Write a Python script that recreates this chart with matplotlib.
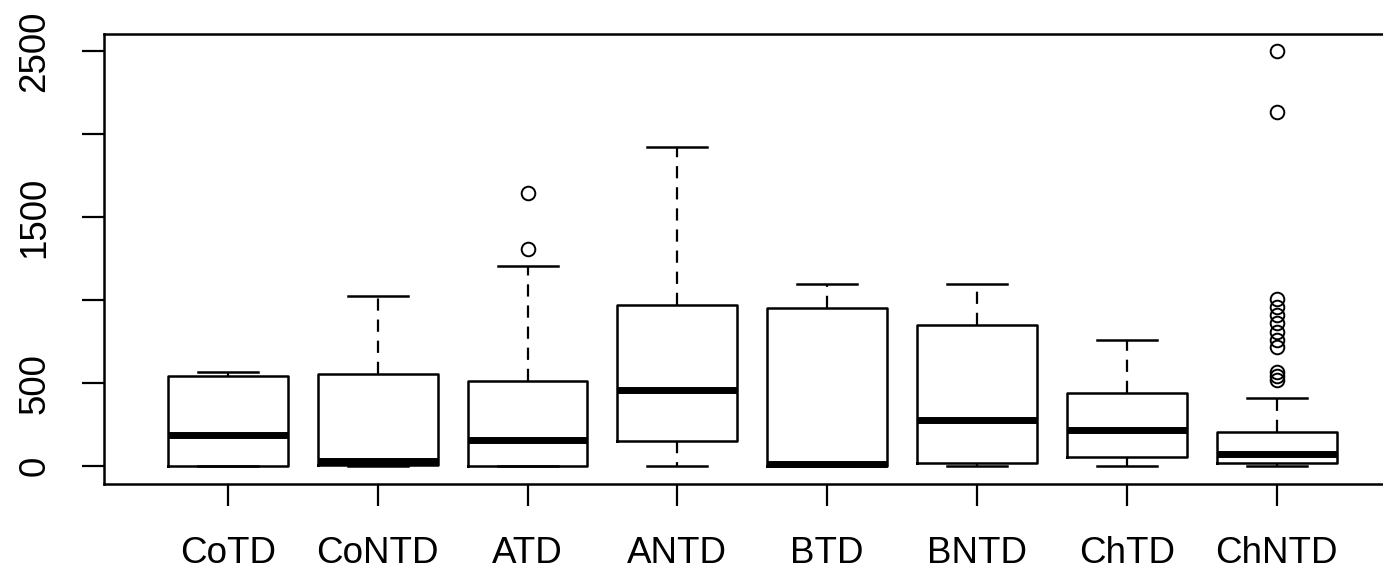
import matplotlib
matplotlib.use("Agg")
import matplotlib.pyplot as plt

# values
groups = ["CoTD", "CoNTD", "ATD", "ANTD", "BTD", "BNTD", "ChTD", "ChNTD"]
q1 = [0, 5, 0, 155, 0, 20, 57, 17]
medians = [190, 32, 160, 457, 12, 280, 219, 72]
q3 = [545, 555, 512, 968, 951, 852, 439, 204]
whisker_lo = [0, 0, 0, 0, 0, 0, 0, 0]
whisker_hi = [570, 1028, 1204, 1922, 1100, 1100, 760, 412]
outliers = [
    [],
    [],
    [1307, 1643],
    [],
    [],
    [],
    [],
    [2500, 2135, 1010, 960, 910, 860, 810, 760, 720, 570, 545, 520],
]
y_ticks = [0, 500, 1000, 1500, 2000, 2500]
# R drops the labels that would overlap, so 1000 and 2000 show no text
y_tick_labels = ["0", "500", "", "1500", "", "2500"]

plt.rcParams["font.family"] = ["Liberation Sans", "DejaVu Sans"]

# build the stats list that bxp wants
stats = []
for i in range(len(groups)):
    stats.append({
        "label": groups[i],
        "q1": q1[i],
        "med": medians[i],
        "q3": q3[i],
        "whislo": whisker_lo[i],
        "whishi": whisker_hi[i],
        "fliers": outliers[i],
    })

fig = plt.figure(figsize=(13.83, 5.72), dpi=100)
ax = fig.add_axes([0.0749, 0.1547, 0.9316, 0.7853])

ax.bxp(
    stats,
    positions=range(1, len(groups) + 1),
    widths=0.8,
    showfliers=True,
    boxprops=dict(color="black", linewidth=1.8),
    medianprops=dict(color="black", linewidth=5.0, solid_capstyle="butt"),
    whiskerprops=dict(color="black", linewidth=1.6, dashes=(5.5, 4)),
    capprops=dict(color="black", linewidth=1.8),
    capwidths=0.4,
    flierprops=dict(marker="o", markersize=9.8, markerfacecolor="none",
                    markeredgecolor="black", markeredgewidth=1.4),
)

ax.set_xlim(0.17, 8.77)
ax.set_ylim(-104, 2601)
ax.set_yticks(y_ticks)
ax.set_yticklabels(y_tick_labels, rotation=90, va="center")
ax.set_xticks(range(1, len(groups) + 1))
ax.set_xticklabels(groups)

ax.tick_params(axis="both", labelsize=26.5, length=16, width=1.6, color="black")
ax.tick_params(axis="x", pad=22)
ax.tick_params(axis="y", pad=21)
for s in ax.spines.values():
    s.set_linewidth(1.8)

fig.savefig("out.png", dpi=100)
